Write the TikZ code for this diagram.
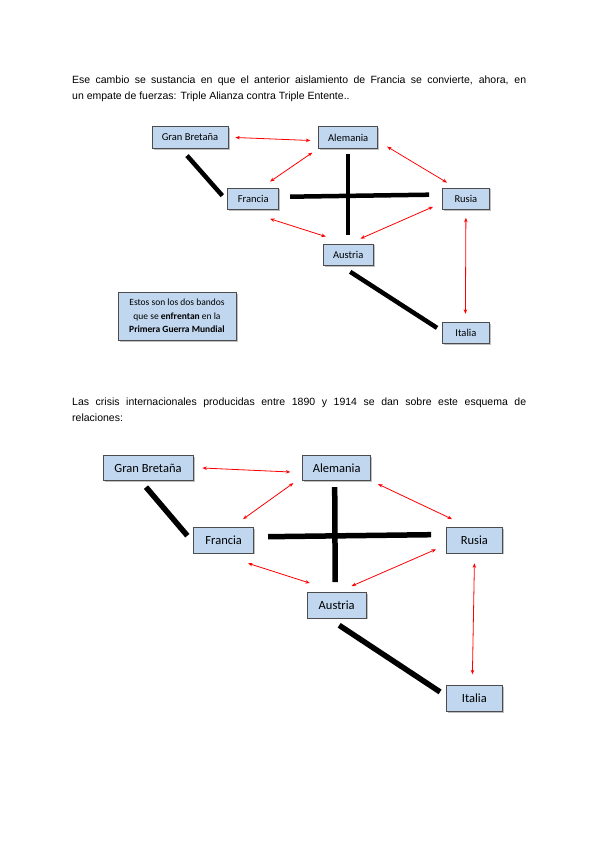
\documentclass[tikz,border=0pt]{standalone}
\usepackage{fontspec}
\setmainfont{Liberation Sans}
\newfontfamily\boxfont{Carlito}
\usetikzlibrary{arrows.meta,positioning,shadows}
\definecolor{boxblue}{RGB}{192,215,239}

\begin{document}
\begin{tikzpicture}[x=1pt,y=-1pt,
	country/.style={draw=black!70,line width=0.7pt,fill=boxblue,inner sep=0pt,
		drop shadow={shadow xshift=1.5pt,shadow yshift=-1.5pt,opacity=0.35,fill=black!70}},
	topbox/.style={country,minimum height=21.5pt,font=\boxfont\fontsize{10.5}{12}\selectfont},
	lowbox/.style={country,minimum height=25.5pt,font=\boxfont\fontsize{12.5}{14}\selectfont},
	rel/.style={red,line width=0.8pt,{Stealth[length=4.5pt,width=3.5pt]}-{Stealth[length=4.5pt,width=3.5pt]}},
	bloc/.style={line width=4.5pt},
	para/.style={anchor=north west,inner sep=0pt,text width=454pt,align=justify,font=\fontsize{10.5}{16}\selectfont}]
	\useasboundingbox[fill=white] (0,0) rectangle (600,848);

	\node[para] (intro) at (72,75.8) {Ese cambio se sustancia en que el anterior aislamiento de Francia se convierte, ahora, en\linebreak un empate de fuerzas: Triple Alianza contra Triple Entente..};

	% first scheme
	\node[topbox,minimum width=76pt] (gb) at (190,137.5) {Gran Bretaña};
	\node[topbox,minimum width=59pt,right=90pt of gb] (alem) {Alemania};
	\node[topbox,minimum width=51pt,below right=39pt and -1pt of gb] (fr) {Francia};
	\node[topbox,minimum width=47pt,right=163pt of fr] (rus) {Rusia};
	\node[topbox,minimum width=50pt,below=95pt of alem] (aus) {Austria};
	\node[topbox,minimum width=47pt,below=112pt of rus] (ita) {Italia};
	\node[country,minimum width=118pt,minimum height=48pt,align=center,
		font=\boxfont\fontsize{9.5}{13.5}\selectfont] (bandos) at (177,316)
		{Estos son los dos bandos\\que se \textbf{enfrentan} en la\\\textbf{Primera Guerra Mundial}};

	\draw[bloc] ([xshift=-3pt,yshift=-7pt]gb.south) -- ([xshift=-5pt,yshift=3pt]fr.west);
	\draw[bloc] ([xshift=11pt,yshift=2pt]fr.east) -- ([xshift=-13pt,yshift=4pt]rus.west);
	\draw[bloc] ([yshift=-5pt]alem.south) -- ([yshift=9pt]aus.north);
	\draw[bloc] ([xshift=2pt,yshift=-6pt]aus.south) -- ([xshift=-5pt,yshift=5pt]ita.west);

	\draw[rel] ([xshift=7pt]gb.east) -- ([xshift=-8pt,yshift=-3pt]alem.west);
	\draw[rel] ([xshift=-9pt,yshift=6pt]fr.north east) -- ([xshift=-6pt,yshift=-4pt]alem.south west);
	\draw[rel] ([xshift=9pt,yshift=2pt]alem.south east) -- ([xshift=5pt,yshift=5pt]rus.north west);
	\draw[rel] ([xshift=-9pt,yshift=-9pt]fr.south east) -- ([xshift=3pt,yshift=7pt]aus.north west);
	\draw[rel] ([xshift=-9pt,yshift=3pt]rus.south west) -- ([xshift=-13pt,yshift=5pt]aus.north east);
	\draw[rel] ([yshift=-8pt]rus.south) -- ([xshift=-0.5pt,yshift=8pt]ita.north);

	\node[para] (crisis) at (72,397.9) {Las crisis internacionales producidas entre 1890 y 1914 se dan sobre este esquema de\linebreak relaciones:};

	% second scheme
	\node[lowbox,minimum width=90pt] (gb2) at (148,468) {Gran Bretaña};
	\node[lowbox,minimum width=68pt,right=109pt of gb2] (alem2) {Alemania};
	\node[lowbox,minimum width=60pt,below right=46pt and 0pt of gb2] (fr2) {Francia};
	\node[lowbox,minimum width=56pt,right=192pt of fr2] (rus2) {Rusia};
	\node[lowbox,minimum width=59pt,below=111pt of alem2] (aus2) {Austria};
	\node[lowbox,minimum width=56pt,below=132pt of rus2] (ita2) {Italia};

	\draw[bloc,line width=5.5pt] ([xshift=-2pt,yshift=-6pt]gb2.south) -- ([xshift=-6pt,yshift=4.5pt]fr2.west);
	\draw[bloc,line width=5.5pt] ([xshift=14pt,yshift=3.5pt]fr2.east) -- ([xshift=-15pt,yshift=5.5pt]rus2.west);
	\draw[bloc,line width=5.5pt] ([xshift=-2pt,yshift=-6pt]alem2.south) -- ([xshift=-1.5pt,yshift=10pt]aus2.north);
	\draw[bloc,line width=5.5pt] ([xshift=2.5pt,yshift=-7pt]aus2.south) -- ([xshift=-6pt,yshift=6.5pt]ita2.west);

	\draw[rel] ([xshift=9pt]gb2.east) -- ([xshift=-12pt,yshift=-4pt]alem2.west);
	\draw[rel] ([xshift=-11pt,yshift=8pt]fr2.north east) -- ([xshift=-9pt,yshift=-2pt]alem2.south west);
	\draw[rel] ([xshift=7pt,yshift=-3pt]alem2.south east) -- ([xshift=6pt,yshift=8pt]rus2.north west);
	\draw[rel] ([xshift=-6pt,yshift=-10pt]fr2.south east) -- ([xshift=3pt,yshift=9pt]aus2.north west);
	\draw[rel] ([xshift=-10pt,yshift=4pt]rus2.south west) -- ([xshift=-15pt,yshift=6pt]aus2.north east);
	\draw[rel] ([yshift=-10pt]rus2.south) -- ([xshift=-2pt,yshift=11pt]ita2.north);
\end{tikzpicture}
\end{document}
